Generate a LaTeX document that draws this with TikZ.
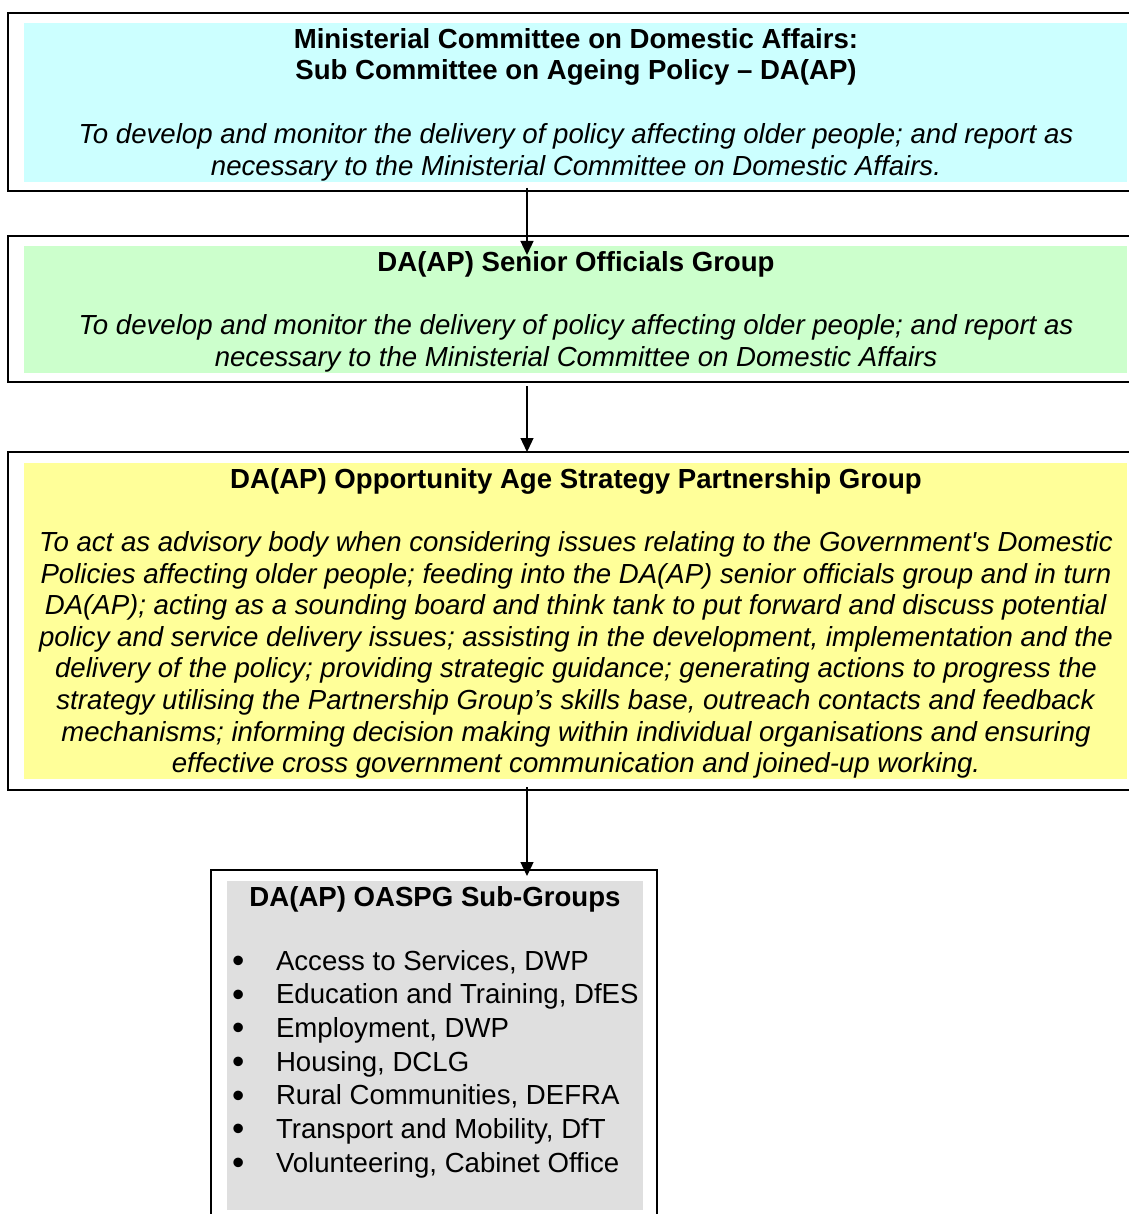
\documentclass[tikz,border=0pt]{standalone}
\usepackage{fontspec}
\setmainfont{Liberation Sans}
\usetikzlibrary{arrows.meta,calc}
\definecolor{cyanfill}{HTML}{CCFFFF}
\definecolor{greenfill}{HTML}{CCFFCC}
\definecolor{yellowfill}{HTML}{FFFF99}
\definecolor{grayfill}{HTML}{DFDFDF}
\newcommand\fstrut{\rule{0pt}{25.3pt}}
\newcommand\bul{\makebox[44pt][l]{\raisebox{-2.5pt}{\fontsize{35pt}{0pt}\selectfont\textbullet}}}
\begin{document}
\begin{tikzpicture}[x=1pt,y=-1pt,
  outerbox/.style={draw=black,line width=1.8pt,rectangle,inner sep=0pt,outer sep=0pt,anchor=north west},
  fillbox/.style={draw=none,rectangle,inner sep=0pt,outer sep=0pt,anchor=north west},
  txt/.style={inner sep=0pt,outer sep=0pt,anchor=north,align=center,font=\fontsize{27.6pt}{31.7pt}\selectfont},
  listtxt/.style={inner sep=0pt,outer sep=0pt,anchor=north west,align=left,font=\fontsize{27.6pt}{33.67pt}\selectfont},
  arr/.style={line width=1.3pt,-{Triangle[width=13pt,length=14pt]}}]
\useasboundingbox (0,0) rectangle (1128,1214);
% boxes
\node[outerbox,minimum width=1127pt,minimum height=178pt] (b1) at (8,13) {};
\node[fillbox,fill=cyanfill,minimum width=1103pt,minimum height=159pt] (f1) at (24,23) {};
\node[outerbox,minimum width=1127pt,minimum height=146pt] (b2) at (8,236) {};
\node[fillbox,fill=greenfill,minimum width=1103pt,minimum height=127pt] (f2) at (24,246) {};
\node[outerbox,minimum width=1127pt,minimum height=338pt] (b3) at (8,452) {};
\node[fillbox,fill=yellowfill,minimum width=1103pt,minimum height=316pt] (f3) at (24,463) {};
\node[outerbox,minimum width=446pt,minimum height=370pt] (b4) at (211,870) {};
\node[fillbox,fill=grayfill,minimum width=416pt,minimum height=329pt] (f4) at (227,881) {};
% texts
\node[txt] (t1) at (576,23) {\fstrut\textbf{Ministerial Committee on Domestic Affairs:}\\
\textbf{Sub Committee on Ageing Policy – DA(AP)}\\[31.7pt]
\textit{To develop and monitor the delivery of policy affecting older people; and report as}\\
\textit{necessary to the Ministerial Committee on Domestic Affairs.}};
\node[txt] (t2) at (576,246) {\fstrut\textbf{DA(AP) Senior Officials Group}\\[31.7pt]
\textit{To develop and monitor the delivery of policy affecting older people; and report as}\\
\textit{necessary to the Ministerial Committee on Domestic Affairs}};
\node[txt,font=\fontsize{27.6pt}{31.6pt}\selectfont] (t3) at (576,463) {\fstrut\textbf{DA(AP) Opportunity Age Strategy Partnership Group}\\[31.6pt]
\textit{To act as advisory body when considering issues relating to the Government\textquotesingle s Domestic}\\
\textit{Policies affecting older people; feeding into the DA(AP) senior officials group and in turn}\\
\textit{DA(AP); acting as a sounding board and think tank to put forward and discuss potential}\\
\textit{policy and service delivery issues; assisting in the development, implementation and the}\\
\textit{delivery of the policy; providing strategic guidance; generating actions to progress the}\\
\textit{strategy utilising the Partnership Group’s skills base, outreach contacts and feedback}\\
\textit{mechanisms; informing decision making within individual organisations and ensuring}\\
\textit{effective cross government communication and joined-up working.}};
\node[txt] (t4) at (435,881) {\fstrut\textbf{DA(AP) OASPG Sub-Groups}};
\node[listtxt] (l4) at (232,944.7) {\fstrut\bul Access to Services, DWP\\
\bul Education and Training, DfES\\
\bul Employment, DWP\\
\bul Housing, DCLG\\
\bul Rural Communities, DEFRA\\
\bul Transport and Mobility, DfT\\
\bul Volunteering, Cabinet Office};
% connectors
\coordinate (ax) at (527,0);
\draw[arr] ([yshift=3pt]b1.south -| ax) -- ([yshift=-19pt]b2.north -| ax);
\draw[arr] ([yshift=-4pt]b2.south -| ax) -- (b3.north -| ax);
\draw[arr] ([yshift=3pt]b3.south -| ax) -- ([yshift=-6pt]b4.north -| ax);
\end{tikzpicture}
\end{document}
